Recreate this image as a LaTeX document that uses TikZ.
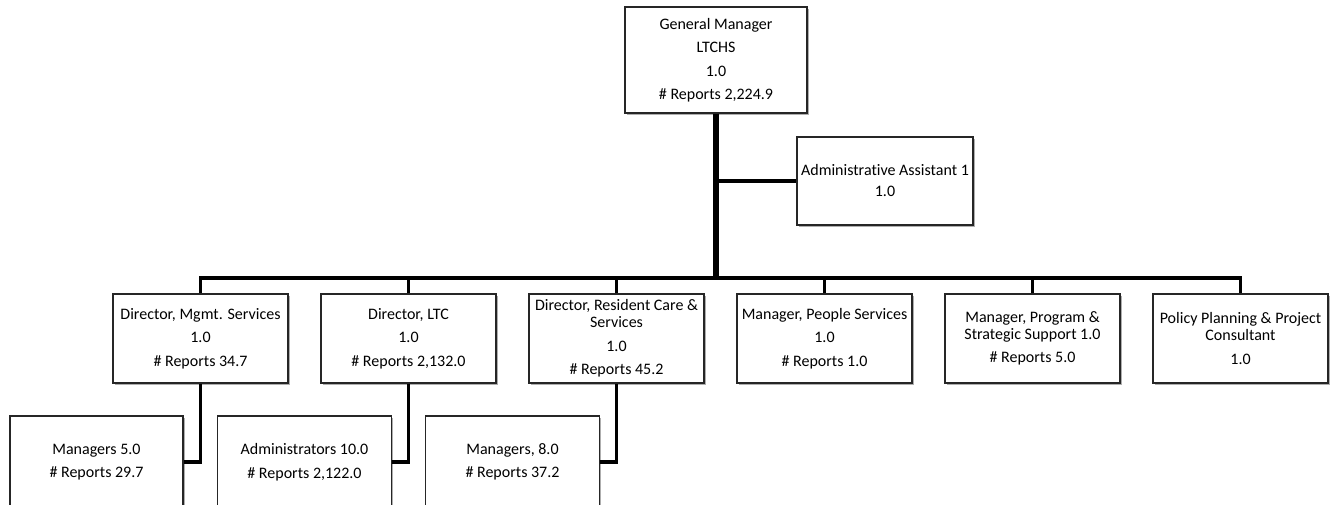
\documentclass[tikz,border=0pt]{standalone}
\usepackage{fontspec}
\setmainfont{Carlito}[Ligatures={NoCommon}]
\usetikzlibrary{shadows}
\begin{document}
\begin{tikzpicture}[x=1pt,y=-1pt,
  box/.style={draw=black!85, line width=1.2pt, fill=white, rectangle, align=center, inner sep=1pt,
    font=\fontsize{16}{17}\selectfont,
    drop shadow={shadow xshift=1.8pt, shadow yshift=-1.8pt, fill=black!45, opacity=0.7}},
  dirbox/.style={box, minimum width=175pt, minimum height=89pt},
  subbox/.style={box, minimum width=174pt, minimum height=92pt},
  conn/.style={line width=3.5pt, black},
  trunk/.style={line width=6.5pt, black}]
\useasboundingbox (0,0) rectangle (1332,504);
% top
\node[box, minimum width=182pt, minimum height=106pt] (gm) at (716,60)
  {General Manager\\[6.5pt]LTCHS\\[6.5pt]1.0\\[6.5pt]\# Reports 2,224.9};
\node[box, minimum width=176pt, minimum height=88pt] (aa) at (885,181)
  {Administrative Assistant 1\\[4pt]1.0};
% directors
\node[dirbox] (d1) at (200.5,338.5) {Director, Mgmt. Services\\[6.5pt]1.0\\[6.5pt]\# Reports 34.7};
\node[dirbox] (d2) at (408.5,338.5) {Director, LTC\\[6.5pt]1.0\\[6.5pt]\# Reports 2,132.0};
\node[dirbox] (d3) at (616.5,338.5) {Director, Resident Care \&\\Services\\[6.5pt]1.0\\[6.5pt]\# Reports 45.2};
\node[dirbox] (d4) at (824.5,338.5) {Manager, People Services\\[6.5pt]1.0\\[6.5pt]\# Reports 1.0};
\node[dirbox] (d5) at (1032.5,338.5) {Manager, Program \&\\Strategic Support 1.0\\[6.5pt]\# Reports 5.0};
\node[dirbox] (d6) at (1240.5,338.5) {Policy Planning \& Project\\Consultant\\[6.5pt]1.0};
% subordinates
\node[subbox, minimum width=173pt] (m1) at (96.5,462) {Managers 5.0\\[6.5pt]\# Reports 29.7};
\node[subbox] (m2) at (304.5,462) {Administrators 10.0\\[6.5pt]\# Reports 2,122.0};
\node[subbox] (m3) at (512.5,462) {Managers, 8.0\\[6.5pt]\# Reports 37.2};
% connectors
\coordinate (hub) at (716,278);
\draw[conn] (aa.west -| gm.south) -- (aa.west);
\draw[conn] (d1.north) |- (hub) -| (d6.north);
\foreach \d in {d2,d3,d4,d5} { \draw[conn] (\d.north) -- (\d.north |- hub); }
\draw[trunk] (gm.south) -- ([yshift=-1.75pt]hub);
\draw[conn] (d1.south) |- (m1.east);
\draw[conn] (d2.south) |- (m2.east);
\draw[conn] (d3.south) |- (m3.east);
\end{tikzpicture}
\end{document}
